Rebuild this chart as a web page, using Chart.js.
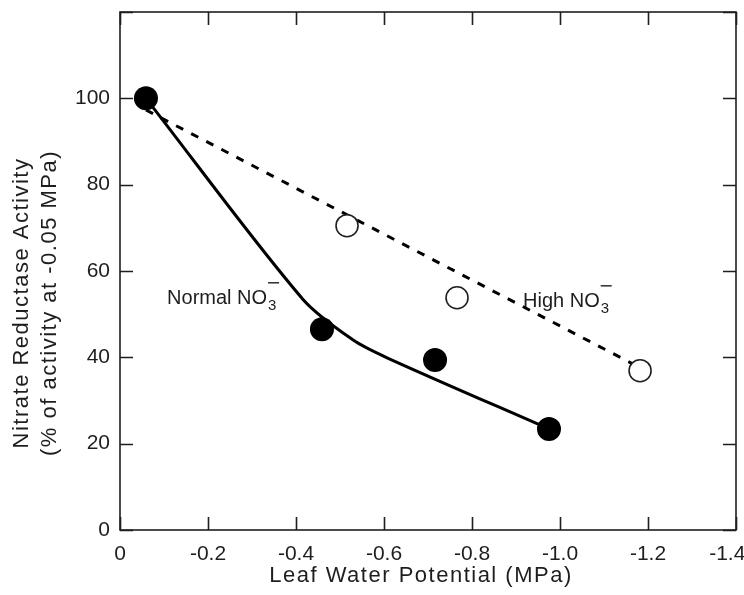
<!DOCTYPE html>
<html>
<head>
<meta charset="utf-8">
<script src="https://cdn.jsdelivr.net/npm/chart.js@4.4.1/dist/chart.umd.min.js"></script>
<style>
  html, body { margin: 0; padding: 0; background: #fff; }
  #wrap { width: 744px; height: 595px; }
</style>
</head>
<body>
<div id="wrap"><canvas id="chartNR" width="744" height="595"></canvas></div>
<script>
// pontos medidos (potencial em MPa, atividade em %)
const normalX = [-0.059, -0.459, -0.716, -0.975];
const normalY = [100, 46.5, 39.4, 23.4];
const highX = [-0.516, -0.766, -1.182];
const highY = [70.5, 53.8, 36.9];

// curva ajustada (NO3 normal)
const normalFitX = [-0.059, -0.416, -0.53, -0.607, -0.975];
const normalFitY = [100, 53.4, 44, 39.9, 23.4];

// reta ajustada (NO3 alto)
const highFitX = [-0.059, -1.182];
const highFitY = [97.3, 37.6];

const xTicks = [0, -0.2, -0.4, -0.6, -0.8, -1.0, -1.2, -1.4];
const yTicks = [0, 20, 40, 60, 80, 100, 120];

const xTitle = 'Leaf Water Potential (MPa)';
const yTitle = ['Nitrate Reductase Activity', '(% of activity at -0.05 MPa)'];
const labels = [
  { text: 'Normal NO', x: -0.107, y: 52.4 },
  { text: 'High NO', x: -0.916, y: 51.7 },
];

const INK = '#1e1e1e';
const pts = (xs, ys) => xs.map((x, i) => ({ x, y: ys[i] }));

// moldura com tracinhos para dentro, titulos e rotulos
const framePlugin = {
  id: 'frame',
  afterDraw(chart) {
    const { ctx, chartArea: a, scales: { x, y } } = chart;
    const tl = 13;
    ctx.save();
    ctx.strokeStyle = INK;
    ctx.lineWidth = 1.6;
    ctx.strokeRect(a.left, a.top, a.right - a.left, a.bottom - a.top);
    ctx.beginPath();
    xTicks.forEach((v) => {
      const px = Math.round(x.getPixelForValue(v)) + 0.5;
      ctx.moveTo(px, a.bottom); ctx.lineTo(px, a.bottom - tl);
      ctx.moveTo(px, a.top); ctx.lineTo(px, a.top + tl);
    });
    yTicks.forEach((v) => {
      const py = Math.round(y.getPixelForValue(v)) + 0.5;
      ctx.moveTo(a.left, py); ctx.lineTo(a.left + tl, py);
      ctx.moveTo(a.right, py); ctx.lineTo(a.right - tl, py);
    });
    ctx.stroke();

    ctx.fillStyle = INK;
    ctx.textAlign = 'center';
    ctx.textBaseline = 'alphabetic';
    ctx.font = '22px "Liberation Sans", Arial, sans-serif';
    ctx.letterSpacing = '1.5px';
    ctx.fillText(xTitle, 421, 582);
    ctx.save();
    ctx.translate(0, 303);
    ctx.rotate(-Math.PI / 2);
    ctx.fillText(yTitle[0], 0, 28);
    ctx.fillText(yTitle[1], 0, 56);
    ctx.restore();
    ctx.letterSpacing = '0px';

    ctx.textAlign = 'left';
    labels.forEach((l) => {
      const px = x.getPixelForValue(l.x);
      const py = y.getPixelForValue(l.y);
      ctx.font = '20px "Liberation Sans", Arial, sans-serif';
      ctx.fillText(l.text, px, py);
      const w = ctx.measureText(l.text).width;
      ctx.font = '15px "Liberation Sans", Arial, sans-serif';
      ctx.fillText('3', px + w + 1, py + 6);
      ctx.lineWidth = 1.4;
      ctx.beginPath();
      ctx.moveTo(px + w + 1, py - 21);
      ctx.lineTo(px + w + 12, py - 21);
      ctx.stroke();
    });
    ctx.restore();
  },
};

new Chart(document.getElementById('chartNR'), {
  type: 'scatter',
  data: {
    datasets: [
      {
        data: pts(normalX, normalY),
        pointRadius: 12,
        pointBackgroundColor: '#000',
        pointBorderColor: '#000',
        pointBorderWidth: 0,
        showLine: false,
      },
      {
        data: pts(highX, highY),
        pointRadius: 11,
        pointBackgroundColor: '#fff',
        pointBorderColor: INK,
        pointBorderWidth: 1.6,
        showLine: false,
      },
      {
        data: pts(normalFitX, normalFitY),
        showLine: true,
        pointRadius: 0,
        borderColor: '#000',
        borderWidth: 3,
        tension: 0.3,
      },
      {
        data: pts(highFitX, highFitY),
        showLine: true,
        pointRadius: 0,
        borderColor: '#000',
        borderWidth: 3,
        borderDash: [8, 9],
      },
    ],
  },
  options: {
    responsive: false,
    animation: false,
    layout: { autoPadding: false, padding: { top: 12, right: 8, left: 0, bottom: 0 } },
    plugins: { legend: { display: false }, tooltip: { enabled: false } },
    scales: {
      x: {
        type: 'linear',
        reverse: true,
        min: -1.4,
        max: 0,
        afterFit: (s) => { s.height = 65; s.paddingLeft = 0; s.paddingRight = 0; },
        afterBuildTicks: (s) => { s.ticks = xTicks.map((v) => ({ value: v })); },
        grid: { display: false, drawTicks: false },
        border: { display: false },
        ticks: {
          padding: 12,
          color: INK,
          font: { size: 21, family: '"Liberation Sans", Arial, sans-serif' },
          maxRotation: 0,
          // o ultimo rotulo fica encostado na borda, como no original
          callback: (v) => (Math.abs(v) < 1e-9 ? '0' : Number(v).toFixed(1) + (v <= -1.39 ? '   ' : '')),
        },
      },
      y: {
        type: 'linear',
        min: 0,
        max: 120,
        afterFit: (s) => { s.width = 120; s.paddingTop = 0; s.paddingBottom = 0; },
        afterBuildTicks: (s) => { s.ticks = yTicks.map((v) => ({ value: v })); },
        grid: { display: false, drawTicks: false },
        border: { display: false },
        ticks: {
          padding: 10,
          color: INK,
          font: { size: 21, family: '"Liberation Sans", Arial, sans-serif' },
          callback: (v) => (v === 120 ? '' : String(v)),
        },
      },
    },
  },
  plugins: [framePlugin],
});
</script>
</body>
</html>
